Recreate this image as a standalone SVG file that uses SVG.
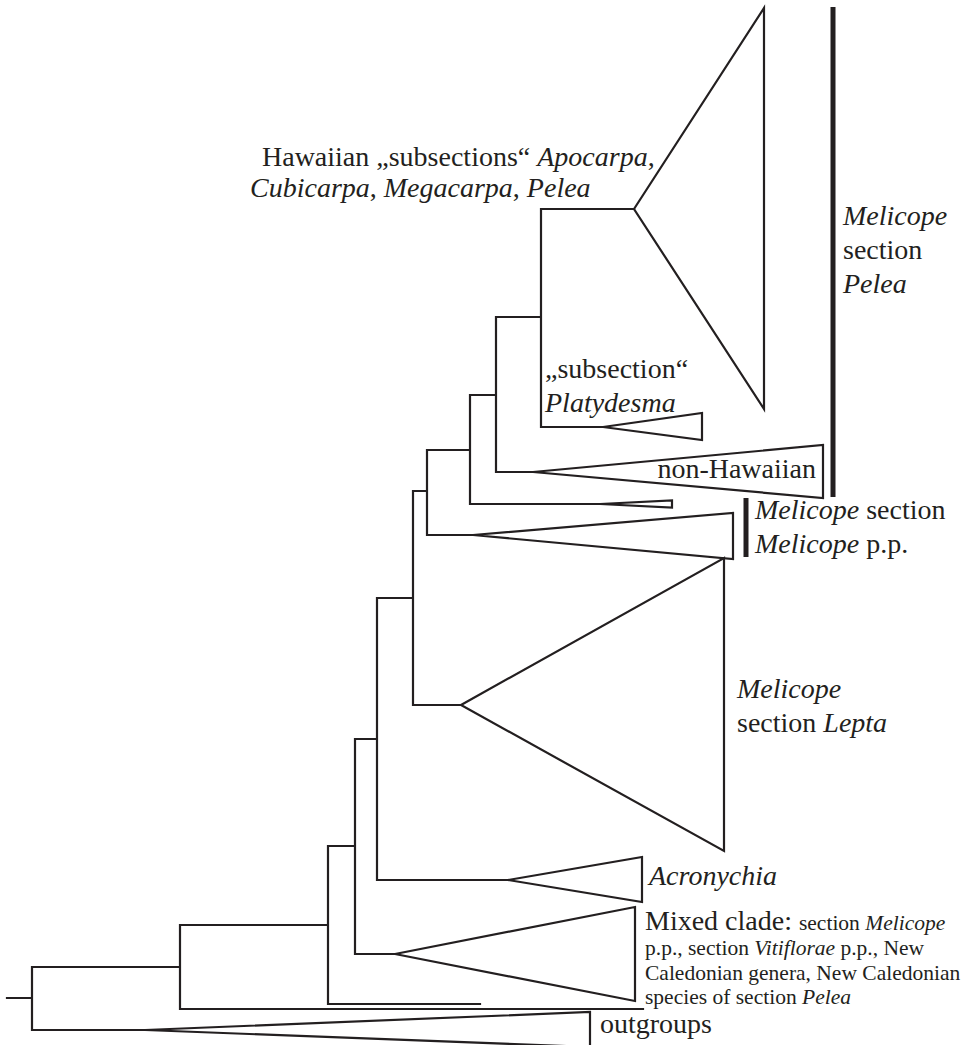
<svg xmlns="http://www.w3.org/2000/svg" width="971" height="1045" viewBox="0 0 971 1045">
<style>
.br{fill:none;stroke:#231f20;stroke-width:2.2;stroke-linejoin:miter;stroke-linecap:square}
.tri{fill:none;stroke:#231f20;stroke-width:2.2;stroke-linejoin:miter}
.bar{stroke:#231f20;stroke-width:5}
.lbl{font-family:'Liberation Serif','Times New Roman',Times,serif;fill:#231f20;font-size:28px}
.i{font-style:italic}
.n{font-style:normal}
.s{font-size:21.5px}
</style>
<rect width="971" height="1045" fill="#fff"/>
<g id="connectors">
<path class="br" d="M7,998H32M32,967V1030M32,967H180M180,925V1009M180,925H328M180,1009H643M328,846V1004M328,846H355M328,1004H480M355,739V954M355,739H377M355,954H395M377,598V880M377,598H413M377,880H508M413,491V705M413,491H427M413,705H461M427,450V535M427,450H470M427,535H473M470,395V504M470,395H496M470,504H600M496,317V472M496,317H541M496,472H533M541,209V427M541,209H634M541,427H603M32,1030H145"/>
</g>
<g id="clade-hawaiian"><polygon class="tri" points="634,209 764,8 764,409"/></g>
<g id="clade-platydesma"><polygon class="tri" points="603,427 702,413 702,440"/></g>
<g id="clade-nonhawaiian"><polygon class="tri" points="533,472 823,445 823,498"/></g>
<g id="clade-small"><polygon class="tri" points="600,504 672,500.5 672,507.5"/></g>
<g id="clade-melicope-pp"><polygon class="tri" points="473,535 733,513 733,559"/></g>
<g id="clade-lepta"><polygon class="tri" points="461,705 724,558 724,851"/></g>
<g id="clade-acronychia"><polygon class="tri" points="508,880 642,857 642,902"/></g>
<g id="clade-mixed"><polygon class="tri" points="395,954 635,907 635,1001"/></g>
<g id="clade-outgroups"><polygon class="tri" points="145,1030 590,1012 590,1047"/></g>
<g id="bars">
<line class="bar" x1="833" y1="7" x2="833" y2="497"/>
<line class="bar" x1="746" y1="498" x2="746" y2="557"/>
</g>
<g id="labels" class="lbl" font-family="Liberation Serif, serif">
<text x="262" y="166">Hawaiian „subsections“ <tspan class="i">Apocarpa</tspan>,</text>
<text x="250" y="197" class="i">Cubicarpa<tspan class="n">,</tspan> Megacarpa<tspan class="n">,</tspan> Pelea</text>
<text x="843" y="225" class="i">Melicope</text>
<text x="843" y="259">section</text>
<text x="843" y="293" class="i">Pelea</text>
<text x="545" y="378">„subsection“</text>
<text x="545" y="412" class="i">Platydesma</text>
<text x="816" y="478" text-anchor="end">non-Hawaiian</text>
<text x="755" y="519"><tspan class="i">Melicope</tspan> section</text>
<text x="755" y="553"><tspan class="i">Melicope</tspan> p.p.</text>
<text x="737" y="698" class="i">Melicope</text>
<text x="737" y="732">section <tspan class="i">Lepta</tspan></text>
<text x="649" y="885" class="i">Acronychia</text>
<text x="645" y="930">Mixed clade: <tspan class="s">section <tspan class="i">Melicope</tspan></tspan></text>
<text x="645" y="955" class="s">p.p., section <tspan class="i">Vitiflorae</tspan> p.p., New</text>
<text x="645" y="980" class="s">Caledonian genera, New Caledonian</text>
<text x="645" y="1004" class="s">species of section <tspan class="i">Pelea</tspan></text>
<text x="600" y="1033">outgroups</text>
</g>
</svg>
